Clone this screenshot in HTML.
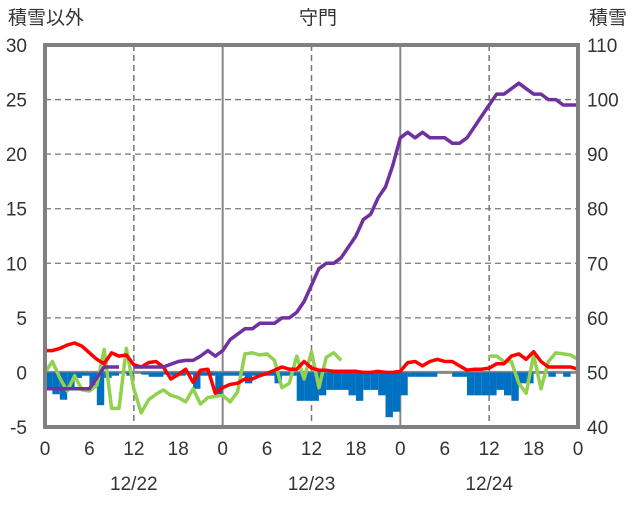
<!DOCTYPE html>
<html><head><meta charset="utf-8">
<style>
body{margin:0;background:#fff;}
svg text{font-family:"Liberation Sans","Noto Sans CJK JP",sans-serif;fill:#333;}
</style></head>
<body>
<svg id="chart" width="636" height="501" viewBox="0 0 636 501" xmlns="http://www.w3.org/2000/svg">
<g id="grid"></g>
<g id="bars"></g>
<g id="lines"></g>
<g id="axes"></g>
<text x="8" y="24" font-size="19">積雪以外</text>
<text x="318" y="24" font-size="19" text-anchor="middle">守門</text>
<text x="589" y="24" font-size="19">積雪</text>
</svg>
<script>
const leftTicks=[-5,0,5,10,15,20,25,30];
const rightTicks=[40,50,60,70,80,90,100,110];
const hourLabels=["0","6","12","18","0","6","12","18","0","6","12","18","0"];
const dateLabels=["12/22","12/23","12/24"];
const bars=[-1.5,-2,-2.5,-1.5,-0.5,-0.3,-1.2,-3,-0.5,-0.3,0,-0.3,0,-0.2,-0.4,-0.4,-0.2,-0.3,-0.3,-0.2,-1.5,-0.3,-0.3,-2,-0.3,-0.3,-0.3,-1,-0.3,-0.3,-0.3,-1,-0.3,-0.3,-2.6,-2.6,-2.6,-2.1,-1.6,-1.6,-1.6,-2.1,-2.6,-1.6,-1.6,-2.1,-4.1,-3.6,-2.1,-0.4,-0.4,-0.4,-0.4,0,0,-0.4,-0.4,-2.1,-2.1,-2.1,-2.1,-1.6,-2.1,-2.6,-1,-1,0,0,-0.4,0,-0.4,0];
const temp=[2,2,2.2,2.5,2.7,2.4,1.8,1.2,0.8,1.8,1.5,1.6,0.7,0.5,0.9,1,0.5,-0.6,-0.2,0.3,-0.9,0.2,0.3,-1.9,-1.4,-1.1,-1,-0.6,-0.6,-0.3,-0.1,0.2,0.5,0.3,0.3,1,0.4,0.2,0.2,0.1,0.1,0.1,0.1,0,0,0.1,0,0,0.1,0.9,1,0.6,1,1.2,1,1,0.6,0.2,0.3,0.3,0.4,0.8,0.8,1.5,1.7,1.2,1.9,1,0.5,0.5,0.5,0.5,0.3];
const wind=[0,1,-0.5,-1.7,-0.3,-1.6,-1.7,-1.2,2.1,-3.3,-3.3,2.2,-1.5,-3.7,-2.5,-2,-1.6,-2.1,-2.3,-2.7,-1.5,-2.9,-2.3,-2.2,-2.1,-2.7,-1.8,1.7,1.8,1.6,1.7,1.1,-1.4,-1,1.5,-0.6,1.9,-1.4,1.4,1.8,1.1,null,null,null,null,null,null,null,null,null,null,null,null,null,null,null,null,null,null,null,1.5,1.5,1.0,1.0,-1.0,-1.9,1.6,-1.5,1.0,1.8,1.7,1.6,1.2];
const snow=[47,47,47,47,47,47,47,49,51,51,51,null,51,51,51,51,51,51.5,52,52.2,52.2,53,54,53,54,56,57,58,58,59,59,59,60,60,61,63,66,69,70,70,71,73,75,78,79,82,84,88,93,94,93,94,93,93,93,92,92,93,95,97,99,101,101,102,103,102,101,101,100,100,99,99,99];
const X0=45,X1=578,YT=45,YB=427,NH=72;
const xs=h=>X0+(X1-X0)*h/NH;
const yL=v=>YB-(v+5)/35*(YB-YT);
const yR=v=>YB-(v-40)/70*(YB-YT);
const NS="http://www.w3.org/2000/svg";
function mk(tag,attrs,parent){const e=document.createElementNS(NS,tag);for(const k in attrs)e.setAttribute(k,attrs[k]);parent.appendChild(e);return e;}
const grid=document.getElementById('grid'),axes=document.getElementById('axes'),barsG=document.getElementById('bars'),linesG=document.getElementById('lines');
leftTicks.forEach((t,i)=>{
  if(t>-5&&t<30&&t!==0){const l=mk('line',{x1:X0,x2:X1,y1:yL(t),y2:yL(t),stroke:'#777','stroke-width':1.3,'stroke-dasharray':'6,4'},grid);
  
  }
  const tx=mk('text',{x:27,y:yL(t)+7,'font-size':19,'text-anchor':'end'},axes);tx.textContent=t;
  
  
  const rt=mk('text',{x:587,y:yR(rightTicks[i])+7,'font-size':19},axes);rt.textContent=rightTicks[i];
  
  
});
for(let h=12;h<NH;h+=12){
  const solid=h%24===0;
  const l=mk('line',{x1:xs(h),x2:xs(h),y1:YT,y2:YB,stroke:solid?'#888':'#777','stroke-width':solid?2:1.5,'stroke-dasharray':solid?'':'6,4'},grid);
  
  
}
hourLabels.forEach((s,i)=>{const t=mk('text',{x:xs(i*6),y:455,'font-size':19,'text-anchor':'middle'},axes);t.textContent=s;
  
  });
dateLabels.forEach((s,i)=>{const t=mk('text',{x:xs(12+24*i),y:490,'font-size':19,'text-anchor':'middle'},axes);t.textContent=s;
  
  });
const bw=(X1-X0)/NH;
bars.forEach((v,h)=>{if(v===0)return;const b=mk('rect',{x:xs(h),y:yL(0),width:bw,height:yL(v)-yL(0),fill:'#0070c0'},barsG);
  
  });
const zl=mk('line',{x1:X0,x2:X1,y1:yL(0),y2:yL(0),stroke:'#888','stroke-width':3},grid);


function drawLine(arr,ys,color,name){
  let d='',pen=false;
  arr.forEach((v,h)=>{if(v===null){pen=false;return;}d+=(pen?'L':'M')+xs(h).toFixed(1)+','+ys(v).toFixed(1);pen=true;});
  const p=mk('path',{d:d,fill:'none',stroke:color,'stroke-width':3.5,'stroke-linejoin':'round'},linesG);
  
  
}
drawLine(wind,yL,'#92d050','series-green');
drawLine(temp,yL,'#ff0000','series-temperature');
drawLine(snow,yR,'#7030a0','series-snow-depth');
const fr=mk('rect',{x:X0,y:YT,width:X1-X0,height:YB-YT,fill:'none',stroke:'#808080','stroke-width':4},axes);


</script>
</body></html>
